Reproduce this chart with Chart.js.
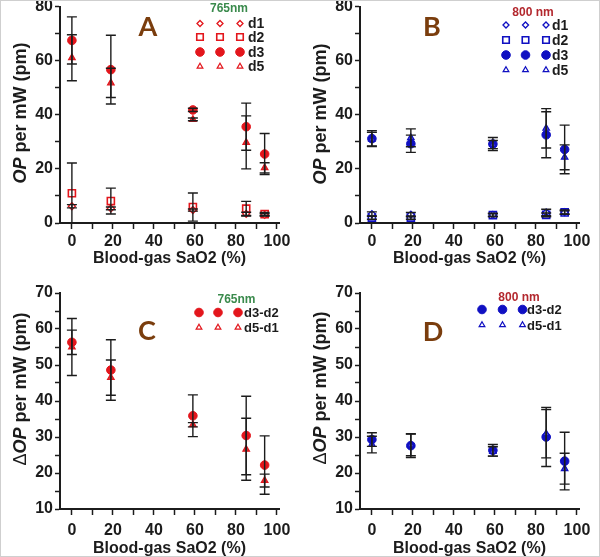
<!DOCTYPE html>
<html>
<head>
<meta charset="utf-8">
<title>OP per mW vs blood-gas SaO2</title>
<script src="https://cdn.jsdelivr.net/npm/chart.js@4.4.1/dist/chart.umd.min.js"></script>
<style>
  html, body { margin: 0; padding: 0; background: #fff; }
  #fig { position: relative; width: 600px; height: 557px; overflow: hidden; }
  .panel { position: absolute; }
  .frame { position: absolute; left: 0; top: 0; width: 600px; height: 557px; box-sizing: border-box; border: 1px solid #cfcfcf; pointer-events: none; }
</style>
</head>
<body>
<div id="fig">
  <div class="panel" style="left:0;top:0"><canvas id="chartA" width="300" height="278"></canvas></div>
  <div class="panel" style="left:300px;top:0"><canvas id="chartB" width="300" height="278"></canvas></div>
  <div class="panel" style="left:0;top:278px"><canvas id="chartC" width="300" height="279"></canvas></div>
  <div class="panel" style="left:300px;top:278px"><canvas id="chartD" width="300" height="279"></canvas></div>
  <div class="frame"></div>
</div>
<script>
// blood-gas SaO2 (%) of the five samples, shared by all panels
const sao2 = [0, 19, 59, 85, 94];
const xTicks = [0, 10, 20, 30, 40, 50, 60, 70, 80, 90, 100];
const opTicks = [0, 10, 20, 30, 40, 50, 60, 70, 80];
const deltaTicks = [10, 15, 20, 25, 30, 35, 40, 45, 50, 55, 60, 65, 70];

// A: OP per mW, 765 nm
const a765_d1 = [6.2, 5.4, 4.8, 3.4, 3.0];
const a765_d1Err = [0.6, 0.5, 0.4, 0.6, 0.4];
const a765_d2 = [11.0, 8.1, 5.9, 5.3, 3.3];
const a765_d2Err = [11.2, 4.8, 5.2, 2.7, 0.6];
const a765_d3 = [67.5, 56.7, 41.8, 35.6, 25.5];
const a765_d3Err = [8.7, 12.7, 0.6, 8.7, 7.6];
const a765_d5 = [61.1, 51.8, 38.3, 29.8, 20.4];
const a765_d5Err = [8.5, 5.4, 0.5, 9.8, 1.9];

// B: OP per mW, 800 nm
const b800_d1 = [3.3, 3.1, 3.0, 3.9, 4.0];
const b800_d1Err = [0.8, 0.8, 0.6, 1.2, 0.8];
const b800_d2 = [2.0, 2.0, 2.9, 3.0, 3.9];
const b800_d2Err = [0.6, 0.6, 0.5, 0.7, 0.6];
const b800_d3 = [31.2, 29.3, 29.2, 32.6, 27.2];
const b800_d3Err = [2.9, 3.2, 2.4, 8.5, 9.0];
const b800_d5 = [31.0, 31.5, 29.0, 35.0, 24.3];
const b800_d5Err = [2.5, 3.3, 1.5, 7.3, 4.6];

// C: delta OP, 765 nm
const c765_d3d2 = [56.3, 48.6, 35.9, 30.4, 22.2];
const c765_d3d2Err = [3.4, 8.4, 5.8, 10.9, 8.1];
const c765_d5d1 = [55.0, 46.5, 33.4, 26.6, 17.9];
const c765_d5d1Err = [7.9, 4.9, 0.6, 8.6, 1.8];

// D: delta OP, 800 nm
const d800_d3d2 = [29.3, 27.6, 26.3, 30.0, 23.3];
const d800_d3d2Err = [1.9, 3.3, 1.6, 8.2, 8.0];
const d800_d5d1 = [27.9, 27.8, 26.0, 30.9, 21.2];
const d800_d5d1Err = [2.3, 3.0, 1.3, 6.7, 4.3];

const FONT = "'Liberation Sans', Arial, Helvetica, sans-serif";
const INK = '#1c1c1c';
const RED = '#e3161c';
const BLUE = '#1010c2';

function markers(color, triFill) {
  return {
    diamond: { pointStyle: 'rectRot', pointRadius: 3.5, pointBorderWidth: 1.3, pointBorderColor: color, pointBackgroundColor: '#fff', legendRadius: 3 },
    square: { pointStyle: 'rect', pointRadius: 5, pointBorderWidth: 1.6, pointBorderColor: color, pointBackgroundColor: 'rgba(255,255,255,0.85)', legendRadius: 4.6 },
    circle: { pointStyle: 'circle', pointRadius: 4.3, pointBorderWidth: 1, pointBorderColor: color, pointBackgroundColor: color, legendRadius: 4.3 },
    triangle: { pointStyle: 'triangle', pointRadius: 3.8, pointBorderWidth: 1.2, pointBorderColor: color, pointBackgroundColor: triFill, legendRadius: 3.3, legendFill: '#fff' }
  };
}
const redM = markers(RED, '#c83a3a');
const blueM = markers(BLUE, '#4848cc');

function series(label, vals, errs, style) {
  return Object.assign({
    label: label,
    data: sao2.map((x, i) => ({ x: x, y: vals[i] })),
    errors: errs,
    showLine: false,
    pointHoverRadius: style.pointRadius
  }, style);
}

function drawMarker(ctx, st, x, y) {
  ctx.save();
  ctx.strokeStyle = st.pointBorderColor;
  ctx.fillStyle = st.legendFill || st.pointBackgroundColor;
  ctx.lineWidth = st.pointBorderWidth;
  Chart.helpers.drawPoint(ctx, { pointStyle: st.pointStyle, radius: st.legendRadius, rotation: 0, borderWidth: st.pointBorderWidth }, x, y);
  ctx.restore();
}

function makePanel(cfg) {
  const decorations = {
    id: 'decorations',
    afterDatasetsDraw(chart) {
      const { ctx, chartArea, scales: { y } } = chart;
      ctx.save();
      ctx.beginPath();
      ctx.rect(chartArea.left, chartArea.top - 2, chartArea.right - chartArea.left, chartArea.bottom - chartArea.top + 2);
      ctx.clip();
      ctx.strokeStyle = INK;
      ctx.lineWidth = 1.4;
      chart.data.datasets.forEach((ds, di) => {
        chart.getDatasetMeta(di).data.forEach((pt, i) => {
          const v = ds.data[i].y, e = ds.errors[i];
          const top = y.getPixelForValue(v + e), bot = y.getPixelForValue(v - e);
          ctx.beginPath();
          ctx.moveTo(pt.x, top); ctx.lineTo(pt.x, bot);
          ctx.moveTo(pt.x - 5, top); ctx.lineTo(pt.x + 5, top);
          ctx.moveTo(pt.x - 5, bot); ctx.lineTo(pt.x + 5, bot);
          ctx.stroke();
        });
      });
      ctx.restore();
    },
    afterDraw(chart) {
      const ctx = chart.ctx;
      ctx.save();
      // y axis title with italic OP
      ctx.translate(cfg.yTitleX, cfg.yTitleY);
      ctx.rotate(-Math.PI / 2);
      ctx.textBaseline = 'middle';
      ctx.fillStyle = INK;
      let total = 0;
      const parts = cfg.yTitle.map(p => {
        ctx.font = p[1];
        const w = ctx.measureText(p[0]).width;
        total += w;
        return { text: p[0], font: p[1], w: w };
      });
      let cx = -total / 2;
      parts.forEach(p => { ctx.font = p.font; ctx.fillText(p.text, cx, 0); cx += p.w; });
      ctx.restore();

      // panel letter
      ctx.save();
      ctx.font = "bold 27px Lato, 'Open Sans', " + FONT;
      ctx.fillStyle = '#7a3d0d';
      ctx.textAlign = 'center';
      ctx.textBaseline = 'middle';
      ctx.fillText(cfg.letter, cfg.letterX, cfg.letterY);

      // legend: wavelength, then rows of three symbols + name
      const L = cfg.legend;
      ctx.font = 'bold 12px ' + FONT;
      ctx.fillStyle = L.titleColor;
      ctx.fillText(L.title, L.titleX, L.titleY);
      ctx.textAlign = 'left';
      ctx.font = 'bold ' + L.labelSize + 'px ' + FONT;
      L.order.forEach((name, r) => {
        const ds = chart.data.datasets.find(d => d.label === name);
        L.markerX.forEach(mx => drawMarker(ctx, ds, mx, L.rowY[r]));
        ctx.fillStyle = INK;
        ctx.fillText(name, L.labelX, L.rowY[r] + 1);
      });
      ctx.restore();
    }
  };

  const tickFont = { family: FONT, size: 16, weight: 'bold' };
  return new Chart(document.getElementById(cfg.id), {
    type: 'scatter',
    data: { datasets: cfg.datasets },
    options: {
      responsive: false,
      animation: false,
      devicePixelRatio: 1,
      layout: { padding: cfg.padding },
      plugins: { legend: { display: false }, tooltip: { enabled: false } },
      scales: {
        x: {
          type: 'linear', min: -5.8, max: 101,
          afterBuildTicks: s => { s.ticks = xTicks.map(v => ({ value: v })); },
          afterFit: s => { s.height = cfg.xAxisH; s.paddingLeft = 0; s.paddingRight = 0; },
          grid: { drawOnChartArea: false, drawTicks: true, tickLength: 6, tickWidth: 1.5, tickColor: INK },
          border: { display: true, color: INK, width: 2 },
          ticks: {
            autoSkip: false, maxRotation: 0, padding: cfg.xTickPad, color: INK, font: tickFont,
            callback: v => (v % 20 === 0 ? v : '')
          },
          title: {
            display: true, text: 'Blood-gas SaO2 (%)', color: INK,
            font: { family: FONT, size: 16, weight: 'bold', lineHeight: 1 },
            padding: { top: 0, bottom: cfg.xTitlePad }
          }
        },
        y: {
          type: 'linear', min: cfg.yTicks[0], max: cfg.yTicks[cfg.yTicks.length - 1],
          afterBuildTicks: s => { s.ticks = cfg.yTicks.map(v => ({ value: v })); },
          afterFit: s => { s.width = 60; s.paddingTop = 0; s.paddingBottom = 0; },
          grid: { drawOnChartArea: false, drawTicks: true, tickLength: 5, tickWidth: 1.5, tickColor: INK },
          border: { display: true, color: INK, width: 2 },
          ticks: {
            autoSkip: false, padding: 2, color: INK, font: tickFont,
            callback: v => (v % cfg.yLabelStep === 0 ? v : '')
          }
        }
      }
    },
    plugins: [decorations]
  });
}

const opTitle = [['OP', 'italic bold 18px ' + FONT], [' per mW (pm)', 'bold 18px ' + FONT]];
const deltaTitle = [['\u0394', '18px ' + FONT], ['OP', 'italic bold 18px ' + FONT], [' per mW (pm)', 'bold 18px ' + FONT]];

makePanel({
  id: 'chartA', padding: { top: 6, right: 21, bottom: 0, left: 0 },
  xAxisH: 55, xTickPad: 3, xTitlePad: 11,
  yTicks: opTicks, yLabelStep: 20, yTitle: opTitle, yTitleX: 21, yTitleY: 113,
  letter: 'A', letterX: 148, letterY: 27,
  legend: { title: '765nm', titleColor: '#3a8a4c', titleX: 229, titleY: 9, order: ['d1', 'd2', 'd3', 'd5'],
            rowY: [23.5, 37, 52, 66.5], markerX: [200, 220, 240], labelX: 248, labelSize: 14 },
  datasets: [
    series('d1', a765_d1, a765_d1Err, redM.diamond),
    series('d2', a765_d2, a765_d2Err, redM.square),
    series('d5', a765_d5, a765_d5Err, redM.triangle),
    series('d3', a765_d3, a765_d3Err, redM.circle)
  ]
});

makePanel({
  id: 'chartB', padding: { top: 6, right: 21, bottom: 0, left: 0 },
  xAxisH: 55, xTickPad: 3, xTitlePad: 11,
  yTicks: opTicks, yLabelStep: 20, yTitle: opTitle, yTitleX: 21, yTitleY: 114,
  letter: 'B', letterX: 132, letterY: 27.5,
  legend: { title: '800 nm', titleColor: '#b3282e', titleX: 233, titleY: 13, order: ['d1', 'd2', 'd3', 'd5'],
            rowY: [25, 40, 55, 70], markerX: [206, 225.5, 246], labelX: 252, labelSize: 14 },
  datasets: [
    series('d1', b800_d1, b800_d1Err, blueM.diamond),
    series('d2', b800_d2, b800_d2Err, blueM.square),
    series('d5', b800_d5, b800_d5Err, blueM.triangle),
    series('d3', b800_d3, b800_d3Err, blueM.circle)
  ]
});

makePanel({
  id: 'chartC', padding: { top: 15, right: 21, bottom: 0, left: 0 },
  xAxisH: 48, xTickPad: 6, xTitlePad: 0,
  yTicks: deltaTicks, yLabelStep: 10, yTitle: deltaTitle, yTitleX: 21, yTitleY: 111,
  letter: 'C', letterX: 147, letterY: 53.5,
  legend: { title: '765nm', titleColor: '#3a8a4c', titleX: 236.5, titleY: 21.5, order: ['d3-d2', 'd5-d1'],
            rowY: [34.5, 49.5], markerX: [199, 218, 238], labelX: 244, labelSize: 13 },
  datasets: [
    series('d5-d1', c765_d5d1, c765_d5d1Err, redM.triangle),
    series('d3-d2', c765_d3d2, c765_d3d2Err, redM.circle)
  ]
});

makePanel({
  id: 'chartD', padding: { top: 15, right: 21, bottom: 0, left: 0 },
  xAxisH: 48, xTickPad: 6, xTitlePad: 0,
  yTicks: deltaTicks, yLabelStep: 10, yTitle: deltaTitle, yTitleX: 21, yTitleY: 110,
  letter: 'D', letterX: 133, letterY: 54,
  legend: { title: '800 nm', titleColor: '#b3282e', titleX: 219, titleY: 20, order: ['d3-d2', 'd5-d1'],
            rowY: [31.5, 47], markerX: [182, 202.5, 222.5], labelX: 227, labelSize: 13 },
  datasets: [
    series('d5-d1', d800_d5d1, d800_d5d1Err, blueM.triangle),
    series('d3-d2', d800_d3d2, d800_d3d2Err, blueM.circle)
  ]
});
</script>
</body>
</html>
